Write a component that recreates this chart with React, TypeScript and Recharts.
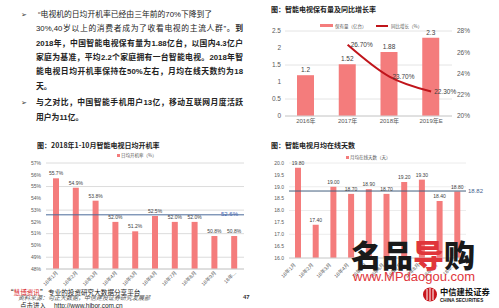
import React from "react";
import {
  Bar,
  BarChart,
  CartesianGrid,
  ComposedChart,
  LabelList,
  Line,
  ReferenceLine,
  XAxis,
  YAxis,
} from "recharts";

const SANS = '"Liberation Sans", "Noto Sans CJK SC", sans-serif';
const CJK = '"Noto Sans CJK SC", "Liberation Sans", sans-serif';

const BAR_PINK = "#f47c7c";
const LINE_RED = "#c0151b";
const AXIS_TEXT = "#595959";
const LABEL_TEXT = "#404040";
const AVG_BLUE = "#4a6a9a";

// 智能电视保有量及同比增长率
const TV_YEARS = ["2016年", "2017年", "2018年", "2019年E"];
const TV_STOCK = [1.2, 1.52, 1.88, 2.3];
const TV_GROWTH = [null, 26.7, 23.7, 22.3];
const STOCK_TICKS = [0, 0.5, 1, 1.5, 2, 2.5];
const GROWTH_TICKS = [20, 21, 22, 23, 24, 25, 26, 27, 28];

// 2018年1-10月
const MONTHS = ["18年1月", "18年2月", "18年3月", "18年4月", "18年5月", "18年6月", "18年7月", "18年8月", "18年9月", "18年10月"];
const BOOT_RATE = [55.7, 54.9, 53.8, 52.0, 51.2, 52.5, 52.0, 52.0, 50.8, 50.8];
const BOOT_RATE_AVG = 52.6;
const BOOT_TICKS = [48, 49, 50, 51, 52, 53, 54, 55, 56, 57];

const ONLINE_DAYS = [19.8, 17.4, 19.0, 18.7, 18.9, 18.7, 19.2, 19.3, 18.4, 18.8];
const ONLINE_DAYS_AVG = 18.82;
const DAYS_TICKS = [16, 16.5, 17, 17.5, 18, 18.5, 19, 19.5, 20];

function shortMonth(label: string) {
  return label.length > 5 ? `${label.slice(0, 3)}...` : label;
}

function RotatedTick(props: any) {
  const { x, y, payload, dx = 0, dy = 0 } = props;
  return (
    <g transform={`translate(${x + dx},${y + dy})`}>
      <text x={0} y={0} dy={1.8} textAnchor="end" fill={AXIS_TEXT} fontSize={5} transform="rotate(-45)">
        {shortMonth(payload.value)}
      </text>
    </g>
  );
}

function StockChart() {
  const data = TV_YEARS.map((year, i) => ({ year, stock: TV_STOCK[i], growth: TV_GROWTH[i] }));
  return (
    <ComposedChart width={249} height={130} data={data} margin={{ top: 31, right: 0, bottom: 0, left: 0 }}>
      <CartesianGrid vertical={false} stroke="#e4e4e4" />
      <XAxis
        dataKey="year"
        height={14}
        interval={0}
        tickLine={false}
        axisLine={{ stroke: "#d0d0d0" }}
        tickSize={0}
        tickMargin={3}
        tick={{ fontSize: 6, fill: AXIS_TEXT }}
      />
      <YAxis
        width={35}
        domain={[0, 2.5]}
        ticks={STOCK_TICKS}
        tickLine={false}
        axisLine={false}
        tickSize={0}
        tickMargin={4}
        tick={{ fontSize: 6.5, fill: AXIS_TEXT }}
      />
      <YAxis
        yAxisId="right"
        orientation="right"
        width={47}
        domain={[20, 28]}
        ticks={GROWTH_TICKS}
        tickFormatter={(v) => `${v}%`}
        tickLine={false}
        axisLine={false}
        tickSize={0}
        tickMargin={5}
        tick={{ fontSize: 6.5, fill: AXIS_TEXT }}
      />
      <Bar dataKey="stock" fill={BAR_PINK} barSize={17} isAnimationActive={false}>
        <LabelList dataKey="stock" position="top" offset={3} fontSize={6.5} fill={LABEL_TEXT} />
      </Bar>
      <Line
        yAxisId="right"
        type="monotone"
        dataKey="growth"
        stroke={LINE_RED}
        strokeWidth={2}
        dot={false}
        isAnimationActive={false}
      >
        <LabelList
          dataKey="growth"
          position="right"
          offset={3}
          fontSize={6.5}
          fill={LABEL_TEXT}
          formatter={(v: any) => (v == null ? "" : `${Number(v).toFixed(2)}%`)}
        />
      </Line>
    </ComposedChart>
  );
}

function BootRateChart() {
  const data = MONTHS.map((month, i) => ({ month, rate: BOOT_RATE[i] }));
  return (
    <BarChart width={250} height={178} data={data} margin={{ top: 33, right: 6, bottom: 0, left: 0 }}>
      <CartesianGrid vertical={false} stroke="#dcdcdc" />
      <XAxis
        dataKey="month"
        height={39}
        interval={0}
        tickLine={false}
        axisLine={{ stroke: "#d0d0d0" }}
        tickSize={0}
        tickMargin={2}
        tick={<RotatedTick dx={1} dy={1} />}
      />
      <YAxis
        width={46}
        domain={[48, 57]}
        ticks={BOOT_TICKS}
        tickFormatter={(v) => `${v}%`}
        tickLine={false}
        axisLine={false}
        tickSize={0}
        tickMargin={5}
        tick={{ fontSize: 5, fill: AXIS_TEXT }}
      />
      <ReferenceLine
        y={BOOT_RATE_AVG}
        stroke={AVG_BLUE}
        strokeWidth={1}
        label={{ value: `${BOOT_RATE_AVG}%`, position: "insideRight", offset: 6, dy: -1, fill: "#3d62b0", fontSize: 6 }}
      />
      <Bar dataKey="rate" fill={BAR_PINK} barSize={6} isAnimationActive={false}>
        <LabelList
          dataKey="rate"
          position="top"
          offset={3}
          fontSize={5}
          fill={LABEL_TEXT}
          formatter={(v: any) => `${Number(v).toFixed(1)}%`}
        />
      </Bar>
    </BarChart>
  );
}

function OnlineDaysChart() {
  const data = MONTHS.map((month, i) => ({ month, days: ONLINE_DAYS[i] }));
  return (
    <BarChart width={249} height={178} data={data} margin={{ top: 33, right: 33, bottom: 0, left: 0 }}>
      <CartesianGrid vertical={false} stroke="#ececec" />
      <XAxis
        dataKey="month"
        height={50}
        interval={0}
        tickLine={false}
        axisLine={{ stroke: "#d0d0d0" }}
        tickSize={0}
        tickMargin={2}
        tick={<RotatedTick dx={-3} dy={4} />}
      />
      <YAxis
        width={39}
        domain={[16, 20]}
        ticks={DAYS_TICKS}
        tickFormatter={(v) => Number(v).toFixed(1)}
        tickLine={false}
        axisLine={false}
        tickSize={0}
        tickMargin={5}
        tick={{ fontSize: 5, fill: AXIS_TEXT }}
      />
      <ReferenceLine
        y={ONLINE_DAYS_AVG}
        stroke="#44607f"
        strokeWidth={1}
        label={{ value: `${ONLINE_DAYS_AVG}`, position: "right", offset: 2, fill: "#3f5f8f", fontSize: 6 }}
      />
      <Bar dataKey="days" fill={BAR_PINK} barSize={6} isAnimationActive={false}>
        <LabelList
          dataKey="days"
          position="top"
          offset={3}
          fontSize={5}
          fill={LABEL_TEXT}
          formatter={(v: any) => Number(v).toFixed(2)}
        />
      </Bar>
    </BarChart>
  );
}

const abs = (left: number, top: number, extra: React.CSSProperties = {}): React.CSSProperties => ({
  position: "absolute",
  left,
  top,
  ...extra,
});

function TextLine({ top, left = 36, children, justify = true }: { top: number; left?: number; children: React.ReactNode; justify?: boolean }) {
  return (
    <div
      style={abs(left, top - 7, {
        width: 243 - left,
        height: 14,
        lineHeight: "14px",
        fontSize: 7.8,
        whiteSpace: "nowrap",
        textAlign: justify ? "justify" : "left",
        textAlignLast: justify ? "justify" : "left",
        color: "#222",
        fontFamily: SANS,
      })}
    >
      {children}
    </div>
  );
}

function Swatch({ left, top, width, height, color }: { left: number; top: number; width: number; height: number; color: string }) {
  return <div style={abs(left, top, { width, height, background: color })} />;
}

export default function App() {
  const title: React.CSSProperties = { fontSize: 7, fontWeight: 700, color: "#222", fontFamily: CJK, whiteSpace: "nowrap", lineHeight: "10px" };
  const legend: React.CSSProperties = { fontSize: 4.5, color: AXIS_TEXT, fontFamily: CJK, whiteSpace: "nowrap", lineHeight: "6px" };
  return (
    <div style={{ position: "absolute", left: 0, top: 0, width: 499, height: 308, overflow: "hidden", background: "#fff", fontFamily: SANS }}>
      {/* body text */}
      <div style={abs(21, 10, { fontSize: 7, lineHeight: "10px", fontFamily: '"DejaVu Sans"', color: "#333" })}>➢</div>
      <div style={abs(21, 98, { fontSize: 7, lineHeight: "10px", fontFamily: '"DejaVu Sans"', color: "#333" })}>➢</div>
      <TextLine top={15} left={38} justify={false}>
        “电视机的日均开机率已经由三年前的70%下降到了
      </TextLine>
      <TextLine top={29.3}>
        30%,40岁以上的消费者成为了收看电视的主流人群”。<b>到</b>
      </TextLine>
      <TextLine top={43.5}>
        <b>2018年，中国智能电视保有量为1.88亿台，以国内4.3亿户</b>
      </TextLine>
      <TextLine top={57.8}>
        <b>家庭为基准，平均2.2个家庭拥有一台智能电视。2018年智</b>
      </TextLine>
      <TextLine top={72}>
        <b>能电视日均开机率保持在50%左右，月均在线天数约为18</b>
      </TextLine>
      <TextLine top={86.5} justify={false}>
        <b>天。</b>
      </TextLine>
      <TextLine top={103.3}>
        <b>与之对比，中国智能手机用户13亿，移动互联网月度活跃</b>
      </TextLine>
      <TextLine top={117.5} justify={false}>
        <b>用户为11亿。</b>
      </TextLine>

      {/* top right chart */}
      <div style={abs(271, 4, title)}>图：智能电视保有量及同比增长率</div>
      <Swatch left={320} top={24} width={13} height={3} color={BAR_PINK} />
      <div style={abs(335, 22.5, legend)}>保有量（亿台）</div>
      <Swatch left={376} top={24.5} width={12} height={2} color={LINE_RED} />
      <div style={abs(391, 22.5, legend)}>同比增长（%）</div>
      <div style={abs(250, 0)}>
        <StockChart />
      </div>

      {/* bottom left chart */}
      <div style={abs(37, 140, title)}>图：2018年1-10月智能电视日均开机率</div>
      <Swatch left={116.5} top={153.5} width={3} height={3} color={BAR_PINK} />
      <div style={abs(121, 152, legend)}>日均开机率（%）</div>
      <div style={abs(0, 130)}>
        <BootRateChart />
      </div>

      {/* bottom right chart */}
      <div style={abs(271, 140, title)}>图：智能电视月均在线天数</div>
      <Swatch left={345.5} top={155.5} width={3} height={3} color={BAR_PINK} />
      <div style={abs(350, 154, legend)}>月均在线天数（天）</div>
      <div style={abs(250, 130)}>
        <OnlineDaysChart />
      </div>

      {/* footer */}
      <div style={abs(7, 288.5, { fontSize: 6.6, lineHeight: "6.6px", fontFamily: CJK, whiteSpace: "nowrap", color: "#222" })}>
        “<span style={{ color: "#d9262b" }}>慧博资讯</span>” 专业的投资研究大数据分享平台
      </div>
      <div
        style={abs(18, 295.3, {
          fontSize: 6,
          lineHeight: "6px",
          fontFamily: CJK,
          fontStyle: "italic",
          whiteSpace: "nowrap",
          color: "#555",
        })}
      >
        资料来源：勾正大数据，中信建投证券研究发展部
      </div>
      <div style={abs(20, 301.5, { fontSize: 6.5, lineHeight: "6.5px", fontFamily: SANS, whiteSpace: "nowrap", color: "#222" })}>
        <span style={{ fontFamily: CJK }}>点击进入</span>
        <span style={{ display: "inline-block", width: 8 }} />
        http://www.hibor.com.cn
      </div>
      <div style={abs(243, 294, { fontSize: 6, fontWeight: 700, lineHeight: "7px", color: "#333" })}>47</div>

      {/* watermark */}
      <div
        style={abs(351, 238, {
          fontSize: 31,
          lineHeight: "31px",
          fontWeight: 900,
          fontFamily: CJK,
          whiteSpace: "nowrap",
          color: "#1a1a1a",
        })}
      >
        名品<span style={{ color: "#e0353a" }}>导</span>购
      </div>
      <div style={abs(353, 269, { fontSize: 13, lineHeight: "16px", fontFamily: SANS, color: "#e0353a", whiteSpace: "nowrap" })}>
        www.MPdaogou.com
      </div>

      {/* logo */}
      <svg style={abs(422, 287)} width={16} height={16}>
        <circle cx={8} cy={7.5} r={7} fill="#c8161d" />
        <rect x={4.5} y={2} width={1} height={11} fill="#fff" />
        <rect x={7.5} y={1} width={1} height={13} fill="#fff" />
        <rect x={10.5} y={2} width={1} height={11} fill="#fff" />
      </svg>
      <div style={abs(440, 286, { fontSize: 8.3, lineHeight: "10px", fontWeight: 700, fontFamily: CJK, color: "#111", whiteSpace: "nowrap" })}>
        中信建投证券
      </div>
      <div style={abs(440, 297.5, { fontSize: 4.6, lineHeight: "6px", fontWeight: 700, fontFamily: SANS, color: "#111", whiteSpace: "nowrap" })}>
        CHINA SECURITIES
      </div>
    </div>
  );
}
